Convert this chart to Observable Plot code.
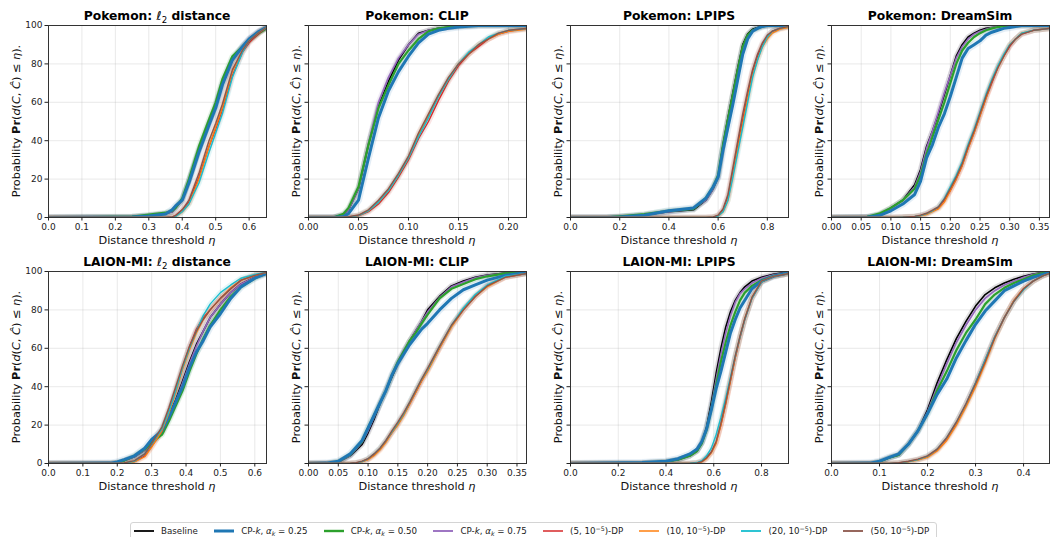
<!DOCTYPE html>
<html>
<head>
<meta charset="utf-8">
<script src="https://cdn.jsdelivr.net/npm/d3@7"></script>
<script src="https://cdn.jsdelivr.net/npm/@observablehq/plot@0.6"></script>
<style>
  body { margin: 0; background: #fff; font-family: "DejaVu Sans", sans-serif; }
  #fig { position: relative; width: 1050px; height: 537px; overflow: hidden; background: #fff; }
  #fig svg.panel { position: absolute; }
  #legend {
    position: absolute; left: 130px; top: 522px; width: 802px; height: 16px;
    border: 1px solid #d4d4d4; border-radius: 3px; box-sizing: content-box;
    display: flex; align-items: center; padding-left: 3px; gap: 16.3px;
    font-size: 8.7px; color: #222; white-space: nowrap;
  }
  #legend .item { display: flex; align-items: center; gap: 7px; }
  #legend sub { font-size: 0.72em; vertical-align: -0.25em; line-height: 0; }
  #legend sup { font-size: 0.72em; vertical-align: 0.45em; line-height: 0; }
</style>
</head>
<body>
<div id="fig"><div id="legend"></div></div>
<script>
// ---- series metadata ----
const seriesNames = ["Baseline", "CP-k, αk=0.25", "CP-k, αk=0.50", "CP-k, αk=0.75",
  "(5, 1e-5)-DP", "(10, 1e-5)-DP", "(20, 1e-5)-DP", "(50, 1e-5)-DP"];
const seriesLegendHtml = [
  "Baseline",
  "CP-<i>k</i>, <i>α</i><sub><i>k</i></sub> = 0.25",
  "CP-<i>k</i>, <i>α</i><sub><i>k</i></sub> = 0.50",
  "CP-<i>k</i>, <i>α</i><sub><i>k</i></sub> = 0.75",
  "(5, 10<sup>−5</sup>)-DP",
  "(10, 10<sup>−5</sup>)-DP",
  "(20, 10<sup>−5</sup>)-DP",
  "(50, 10<sup>−5</sup>)-DP"
];
const seriesColors = ["#000000", "#1f77b4", "#2ca02c", "#9467bd", "#d62728", "#ff7f0e", "#17becf", "#8c564b"];
const seriesWidths = [1.6, 3, 2.2, 1.6, 1.3, 1.3, 1.4, 1.4];
const legendWidths = [1.8, 3, 2.4, 1.8, 1.5, 1.5, 1.8, 1.8];

const probTicks = [0, 20, 40, 60, 80, 100];

// ---- Pokemon: l2 distance ----
const pokemonL2Eta      = [0, 0.25, 0.30, 0.35, 0.37, 0.38, 0.40, 0.42, 0.45, 0.48, 0.50, 0.52, 0.55, 0.58, 0.60, 0.63, 0.652];
const pokemonL2Baseline = [0, 0.3, 1, 2, 3, 5, 9, 19, 35, 49, 58, 69, 82, 89, 93, 97, 99];
const pokemonL2CP25     = [0, 0.2, 0.8, 1.8, 4, 6, 9, 18, 34, 48, 57, 69, 82, 89, 93, 97, 99];
const pokemonL2CP50     = [0, 0.5, 1.5, 2.5, 3.5, 5, 10, 20, 37, 51, 60, 72, 84, 89, 92, 96, 98.5];
const pokemonL2CP75     = [0, 0.3, 1, 2, 3, 5, 9, 19, 35, 49, 58, 70, 82, 89, 93, 97, 99];
const pokemonL2DP5      = [0, 0, 0, 0, 0.3, 1, 4, 8, 21, 37, 46, 56, 74, 86, 91, 96, 99];
const pokemonL2DP10     = [0, 0, 0, 0, 0.2, 0.5, 3, 7, 20, 37, 47, 57, 76, 87, 92, 96.5, 99];
const pokemonL2DP20     = [0, 0, 0, 0, 0.2, 0.5, 3, 7, 18, 34, 44, 54, 73, 86, 92, 96.5, 99];
const pokemonL2DP50     = [0, 0, 0, 0, 0.3, 1, 4, 9, 23, 40, 49, 59, 77, 87, 92, 96.5, 99];
const pokemonL2Ticks    = [0, 0.1, 0.2, 0.3, 0.4, 0.5, 0.6];

// ---- Pokemon: CLIP ----
const pokemonClipEta      = [0, 0.025, 0.035, 0.04, 0.05, 0.06, 0.07, 0.08, 0.09, 0.10, 0.11, 0.12, 0.13, 0.14, 0.15, 0.16, 0.17, 0.18, 0.19, 0.20, 0.218];
const pokemonClipBaseline = [0, 0, 1.5, 4, 15, 38, 58, 71, 82, 90, 96, 97.5, 98.5, 99, 99.5, 99.8, 100, 100, 100, 100, 100];
const pokemonClipCP25     = [0, 0, 0.5, 2, 9, 31, 52, 66, 76, 84, 91, 95.5, 97.5, 98.5, 99.2, 99.6, 100, 100, 100, 100, 100];
const pokemonClipCP50     = [0, 0, 2, 5, 16, 38, 57, 69, 80, 87, 93, 97, 98.5, 99.2, 99.6, 99.8, 100, 100, 100, 100, 100];
const pokemonClipCP75     = [0, 0, 1.5, 4, 15, 39, 60, 73, 83, 90, 95.5, 97.5, 98.5, 99, 99.5, 99.8, 100, 100, 100, 100, 100];
const pokemonClipDP5      = [0, 0, 0, 0.2, 0.8, 3, 7, 13, 21, 30, 41, 50, 61, 71, 79, 85, 89, 93, 95.5, 97, 98.5];
const pokemonClipDP10     = [0, 0, 0, 0.3, 1, 3.5, 8, 14, 22, 31, 43, 53, 63, 72, 80, 85, 90, 93, 95.5, 97, 98];
const pokemonClipDP20     = [0, 0, 0, 0.3, 1, 3.5, 8, 14, 22, 31, 42, 52, 63, 72, 80, 86, 90, 94, 96, 97.5, 98.5];
const pokemonClipDP50     = [0, 0, 0.1, 0.4, 1.3, 4, 9, 15, 23, 32, 44, 54, 64, 73, 80, 85, 90, 93, 96, 97.5, 98.5];
const pokemonClipTicks    = [0, 0.05, 0.10, 0.15, 0.20];

// ---- Pokemon: LPIPS ----
const pokemonLpipsEta      = [0, 0.15, 0.2, 0.3, 0.4, 0.5, 0.55, 0.58, 0.6, 0.62, 0.64, 0.66, 0.68, 0.7, 0.72, 0.74, 0.76, 0.78, 0.8, 0.82, 0.85, 0.886];
const pokemonLpipsBaseline = [0, 0, 0.4, 1.3, 3, 4, 9, 15, 21, 38, 52, 65, 78, 90, 95.5, 98, 99, 99.6, 100, 100, 100, 100];
const pokemonLpipsCP25     = [0, 0, 0.3, 1.2, 3.5, 5, 10, 16, 21, 35, 47, 59, 72, 85, 93, 97, 98.5, 99.5, 100, 100, 100, 100];
const pokemonLpipsCP50     = [0, 0.1, 0.6, 1.8, 3.5, 4.5, 10, 16, 22, 38, 51, 64, 77, 89, 95, 97.5, 98.5, 99.5, 100, 100, 100, 100];
const pokemonLpipsCP75     = [0, 0, 0.4, 1.3, 3, 4.5, 9, 15, 21, 37, 51, 64, 77, 89, 95, 97.5, 98.7, 99.5, 100, 100, 100, 100];
const pokemonLpipsDP5      = [0, 0, 0, 0, 0, 0, 0, 0.2, 1, 4, 11, 24, 38, 51, 64, 76, 84, 90, 94, 97, 98.5, 99.5];
const pokemonLpipsDP10     = [0, 0, 0, 0, 0, 0, 0, 0, 0.8, 3, 9, 22, 36, 49, 62, 74, 82, 89, 93, 96, 98, 99];
const pokemonLpipsDP20     = [0, 0, 0, 0, 0, 0, 0, 0, 0.8, 3, 9, 21, 34, 47, 60, 73, 82, 89, 94, 97, 98.5, 99.5];
const pokemonLpipsDP50     = [0, 0, 0, 0, 0, 0, 0, 0.3, 1.2, 4.5, 12, 26, 40, 54, 66, 77, 85, 91, 95, 97, 98.5, 99.5];
const pokemonLpipsTicks    = [0, 0.2, 0.4, 0.6, 0.8];

// ---- Pokemon: DreamSim ----
const pokemonDreamEta      = [0, 0.06, 0.08, 0.10, 0.12, 0.14, 0.15, 0.16, 0.17, 0.18, 0.19, 0.20, 0.21, 0.22, 0.23, 0.24, 0.25, 0.26, 0.27, 0.28, 0.29, 0.30, 0.31, 0.32, 0.34, 0.367];
const pokemonDreamBaseline = [0, 0.2, 1.5, 5, 9, 17, 25, 37, 45, 54, 64, 74, 84, 90, 94, 96, 97.5, 98.5, 99, 99.5, 99.8, 100, 100, 100, 100, 100];
const pokemonDreamCP25     = [0, 0.1, 1, 3.5, 7, 12, 19, 31, 38, 47, 54, 63, 73, 83, 88, 90, 92, 95, 96.5, 97.5, 98.5, 99, 99.5, 100, 100, 100];
const pokemonDreamCP50     = [0, 0.3, 2, 5, 9, 15, 22, 33, 42, 51, 60, 70, 80, 87, 91, 94, 96, 97.5, 98.5, 99.2, 99.6, 100, 100, 100, 100, 100];
const pokemonDreamCP75     = [0, 0.2, 1.5, 4.5, 9, 16, 24, 36, 45, 55, 65, 74, 83, 89, 93, 95.5, 97, 98, 99, 99.5, 99.8, 100, 100, 100, 100, 100];
const pokemonDreamDP5      = [0, 0, 0, 0, 0.2, 0.5, 1, 2, 3.5, 5, 9, 14, 20, 27, 36, 44, 53, 62, 70, 78, 84, 89, 93, 95.5, 97.5, 98.5];
const pokemonDreamDP10     = [0, 0, 0, 0, 0.1, 0.4, 0.8, 1.5, 3, 4.5, 8, 14, 20, 27, 36, 44, 53, 62, 71, 78, 84, 90, 93, 96, 97.5, 98.5];
const pokemonDreamDP20     = [0, 0, 0, 0, 0.2, 0.5, 1, 2, 3.5, 5.5, 10, 16, 22, 29, 38, 46, 55, 64, 72, 79, 85, 90, 93, 96, 97.5, 98.5];
const pokemonDreamDP50     = [0, 0, 0, 0, 0.2, 0.6, 1.2, 2.2, 3.8, 5.5, 9.5, 15, 21, 28, 37, 45, 54, 63, 71, 78, 84, 89.5, 93, 95.5, 97.5, 98.5];
const pokemonDreamTicks    = [0, 0.05, 0.10, 0.15, 0.20, 0.25, 0.30, 0.35];

// ---- LAION-MI: l2 distance ----
const laionL2Eta      = [0, 0.18, 0.2, 0.22, 0.25, 0.28, 0.30, 0.33, 0.35, 0.37, 0.39, 0.41, 0.43, 0.45, 0.47, 0.50, 0.53, 0.56, 0.60, 0.634];
const laionL2Baseline = [0, 0, 0.5, 1.5, 3.5, 7, 11, 17, 25, 33, 43, 53, 62, 69, 76, 83, 89, 93.5, 97, 99];
const laionL2CP25     = [0, 0.2, 0.8, 2, 4, 8, 12.5, 17, 24, 32, 40, 50, 58, 64, 71, 78, 86, 92, 96.5, 99];
const laionL2CP50     = [0, 0, 0.5, 1.5, 4, 7.5, 11, 15, 22, 30, 38, 48, 57, 65, 72, 80, 87, 92, 96.5, 99];
const laionL2CP75     = [0, 0, 0.5, 1.5, 3.5, 7, 11, 16, 24, 32, 42, 52, 61, 69, 76, 83, 89, 93.5, 97, 99];
const laionL2DP5      = [0, 0, 0, 0.2, 1, 4, 9, 17, 27, 38, 50, 61, 70, 76, 80, 86, 91, 95.5, 98, 99.5];
const laionL2DP10     = [0, 0, 0, 0.1, 0.8, 3.5, 8.5, 17, 26, 37, 49, 59, 68, 75, 80, 86, 91.5, 95.5, 98, 99.5];
const laionL2DP20     = [0, 0, 0, 0.2, 1.2, 5, 10, 18, 27, 38, 50, 60, 69, 77, 83, 89, 93, 96.5, 98.5, 99.5];
const laionL2DP50     = [0, 0, 0, 0.3, 1.5, 5, 10.5, 19, 29, 40, 51, 61, 69, 75, 80, 86, 91, 95.5, 98, 99.5];
const laionL2Ticks    = [0, 0.1, 0.2, 0.3, 0.4, 0.5, 0.6];

// ---- LAION-MI: CLIP ----
const laionClipEta      = [0, 0.03, 0.05, 0.07, 0.08, 0.09, 0.10, 0.11, 0.12, 0.13, 0.14, 0.15, 0.16, 0.17, 0.18, 0.19, 0.20, 0.22, 0.24, 0.26, 0.28, 0.30, 0.33, 0.366];
const laionClipBaseline = [0, 0, 0.8, 4, 7, 10, 16, 23, 31, 38, 45, 52, 58, 64, 69, 74, 80, 87, 92.5, 95, 97, 98.2, 99.2, 99.7];
const laionClipCP25     = [0, 0.2, 1.2, 5, 8.5, 12, 18.5, 25, 31.5, 38, 46, 52, 57, 62, 66, 70, 73, 80, 86, 90.5, 93, 95.5, 98, 99.5];
const laionClipCP50     = [0, 0, 1, 4.5, 8, 11.5, 18.5, 25, 31.5, 38, 46, 53, 58.5, 64, 68, 73, 77.5, 86, 91, 93.5, 96, 97.5, 99, 99.5];
const laionClipCP75     = [0, 0, 0.8, 4, 7.5, 11, 17, 24, 31, 38, 46, 53, 59, 64, 69, 74, 79, 86.5, 92, 94.5, 96.7, 98, 99, 99.5];
const laionClipDP5      = [0, 0, 0, 0, 0.3, 1, 2.2, 4.5, 7.5, 11.5, 16, 20.5, 25.5, 31, 37, 43, 48.5, 60, 71.5, 80, 87, 92.5, 97, 99];
const laionClipDP10     = [0, 0, 0, 0, 0.2, 0.8, 2, 4, 7, 11, 16, 20, 25, 31, 37, 43, 48, 60, 71, 80, 87, 92, 97, 99];
const laionClipDP20     = [0, 0, 0, 0, 0.3, 1, 2.5, 5, 8, 12, 16.5, 21, 26, 32, 38, 44, 49, 61, 72, 81, 88, 93, 97.5, 99];
const laionClipDP50     = [0, 0, 0, 0.1, 0.4, 1.2, 2.5, 5, 8, 12, 17, 21.5, 26.5, 32, 38, 44, 49.5, 61, 72, 80, 87, 92.5, 97, 99];
const laionClipTicks    = [0, 0.05, 0.10, 0.15, 0.20, 0.25, 0.30, 0.35];

// ---- LAION-MI: LPIPS ----
const laionLpipsEta      = [0, 0.3, 0.4, 0.45, 0.5, 0.53, 0.55, 0.57, 0.59, 0.61, 0.63, 0.65, 0.67, 0.69, 0.71, 0.73, 0.76, 0.8, 0.85, 0.9, 0.913];
const laionLpipsBaseline = [0, 0.3, 1, 2, 4, 6.5, 11, 19, 32, 47, 60, 71, 79, 85, 89, 92, 95, 97, 98.5, 99.5, 99.8];
const laionLpipsCP25     = [0, 0.5, 1.2, 2.5, 5, 7.5, 11.5, 18, 28, 39, 48, 58, 68, 75, 81, 85, 91, 95, 97.5, 99, 99.5];
const laionLpipsCP50     = [0, 0.3, 1, 2, 4, 6.5, 10.5, 17.5, 28.5, 41, 53, 63, 72, 79, 85, 89, 92.5, 95.5, 97.8, 99, 99.5];
const laionLpipsCP75     = [0, 0.3, 1, 2, 4, 6.5, 10.5, 18, 30, 44, 57, 68, 77, 84, 88.5, 91, 94, 96.5, 98.3, 99.3, 99.7];
const laionLpipsDP5      = [0, 0, 0, 0, 0, 0.3, 1, 3, 6, 11, 20, 31, 43, 55, 65.5, 75, 86, 94.5, 97.5, 98.6, 99];
const laionLpipsDP10     = [0, 0, 0, 0, 0, 0.2, 0.8, 2.5, 5.5, 10.5, 20, 31, 43, 55, 66, 75.5, 86.5, 95, 97.5, 98.6, 99];
const laionLpipsDP20     = [0, 0, 0, 0, 0.1, 0.5, 1.5, 4, 8, 15, 24, 34, 45, 56, 66, 75, 86, 94.5, 97.5, 98.6, 99];
const laionLpipsDP50     = [0, 0, 0, 0, 0, 0.3, 1, 3, 6, 11.5, 21, 32, 44, 56, 66.5, 75.5, 86.5, 95, 97.5, 98.6, 99];
const laionLpipsTicks    = [0, 0.2, 0.4, 0.6, 0.8];

// ---- LAION-MI: DreamSim ----
const laionDreamEta      = [0, 0.08, 0.10, 0.12, 0.14, 0.16, 0.18, 0.20, 0.22, 0.24, 0.26, 0.28, 0.30, 0.32, 0.34, 0.36, 0.38, 0.40, 0.42, 0.44, 0.454];
const laionDreamBaseline = [0, 0, 1, 3, 4.5, 10, 17, 28, 42, 54, 65, 74, 82, 88, 91.5, 94, 96, 97.5, 98.7, 99.5, 100];
const laionDreamCP25     = [0, 0.2, 1.2, 3.2, 5, 10, 17, 26, 36, 44, 55, 64, 72.5, 79.4, 84.7, 90, 92.5, 95, 97, 98.5, 99.5];
const laionDreamCP50     = [0, 0, 1, 3, 4.5, 10, 17, 26, 38, 48, 59, 68, 75, 83, 88, 91.5, 94, 96, 98, 99.2, 99.7];
const laionDreamCP75     = [0, 0, 1, 3, 4.5, 10, 17, 27, 40, 52, 63, 72, 80, 86, 90, 93, 95, 97, 98.5, 99.3, 99.8];
const laionDreamDP5      = [0, 0, 0, 0, 0.3, 1, 2, 3.5, 7, 13, 21, 31, 42, 54, 66, 76, 85, 91, 95, 97.7, 99];
const laionDreamDP10     = [0, 0, 0, 0, 0.2, 0.8, 1.8, 3.2, 6.5, 12, 20, 29.5, 40, 52, 65, 76, 85, 91, 95, 97.7, 99];
const laionDreamDP20     = [0, 0, 0, 0, 0.3, 1, 2, 3.8, 7.5, 13.5, 21.5, 31, 42, 54, 66, 76, 84.5, 90.5, 95, 97.7, 99];
const laionDreamDP50     = [0, 0, 0, 0, 0.4, 1.2, 2.3, 4, 7.5, 13.5, 21.5, 31, 41.5, 53, 65.5, 76, 84.5, 91, 95, 97.7, 99];
const laionDreamTicks    = [0, 0.1, 0.2, 0.3, 0.4];

// ---- panel table built from the arrays above ----
const panels = [
  {dataset: "Pokemon", metric: "l2", eta: pokemonL2Eta, ticks: pokemonL2Ticks, fmt: ".1f",
   series: [pokemonL2Baseline, pokemonL2CP25, pokemonL2CP50, pokemonL2CP75, pokemonL2DP5, pokemonL2DP10, pokemonL2DP20, pokemonL2DP50]},
  {dataset: "Pokemon", metric: "CLIP", eta: pokemonClipEta, ticks: pokemonClipTicks, fmt: ".2f",
   series: [pokemonClipBaseline, pokemonClipCP25, pokemonClipCP50, pokemonClipCP75, pokemonClipDP5, pokemonClipDP10, pokemonClipDP20, pokemonClipDP50]},
  {dataset: "Pokemon", metric: "LPIPS", eta: pokemonLpipsEta, ticks: pokemonLpipsTicks, fmt: ".1f",
   series: [pokemonLpipsBaseline, pokemonLpipsCP25, pokemonLpipsCP50, pokemonLpipsCP75, pokemonLpipsDP5, pokemonLpipsDP10, pokemonLpipsDP20, pokemonLpipsDP50]},
  {dataset: "Pokemon", metric: "DreamSim", eta: pokemonDreamEta, ticks: pokemonDreamTicks, fmt: ".2f",
   series: [pokemonDreamBaseline, pokemonDreamCP25, pokemonDreamCP50, pokemonDreamCP75, pokemonDreamDP5, pokemonDreamDP10, pokemonDreamDP20, pokemonDreamDP50]},
  {dataset: "LAION-MI", metric: "l2", eta: laionL2Eta, ticks: laionL2Ticks, fmt: ".1f",
   series: [laionL2Baseline, laionL2CP25, laionL2CP50, laionL2CP75, laionL2DP5, laionL2DP10, laionL2DP20, laionL2DP50]},
  {dataset: "LAION-MI", metric: "CLIP", eta: laionClipEta, ticks: laionClipTicks, fmt: ".2f",
   series: [laionClipBaseline, laionClipCP25, laionClipCP50, laionClipCP75, laionClipDP5, laionClipDP10, laionClipDP20, laionClipDP50]},
  {dataset: "LAION-MI", metric: "LPIPS", eta: laionLpipsEta, ticks: laionLpipsTicks, fmt: ".1f",
   series: [laionLpipsBaseline, laionLpipsCP25, laionLpipsCP50, laionLpipsCP75, laionLpipsDP5, laionLpipsDP10, laionLpipsDP20, laionLpipsDP50]},
  {dataset: "LAION-MI", metric: "DreamSim", eta: laionDreamEta, ticks: laionDreamTicks, fmt: ".1f",
   series: [laionDreamBaseline, laionDreamCP25, laionDreamCP50, laionDreamCP75, laionDreamDP5, laionDreamDP10, laionDreamDP20, laionDreamDP50]}
];

// ---- layout ----
const ML = 48, MT = 25, MR = 4, MB = 32, PW = 218, PH = 192;
const colLefts = [48, 308, 570, 831];
const rowTops = [25, 271];
const drawOrder = [0, 3, 2, 1, 4, 5, 6, 7];

const fig = document.getElementById("fig");

panels.forEach((p, i) => {
  const col = i % 4, row = Math.floor(i / 4);
  const xmax = p.eta[p.eta.length - 1];
  const tables = p.series.map(vals => p.eta.map((e, j) => ({eta: e, pr: vals[j]})));

  const marks = [
    Plot.gridX(p.ticks, {stroke: "#b0b0b0", strokeOpacity: 0.35, strokeWidth: 0.8}),
    Plot.gridY(probTicks, {stroke: "#b0b0b0", strokeOpacity: 0.35, strokeWidth: 0.8})
  ];
  // soft confidence bands under each curve
  for (const k of drawOrder) {
    marks.push(Plot.line(tables[k], {x: "eta", y: "pr", stroke: seriesColors[k],
      strokeWidth: k === 1 ? 7 : 5.5, strokeOpacity: 0.12, clip: true}));
  }
  for (const k of drawOrder) {
    marks.push(Plot.line(tables[k], {x: "eta", y: "pr", stroke: seriesColors[k],
      strokeWidth: seriesWidths[k], clip: true}));
  }
  marks.push(Plot.frame({stroke: "#333", strokeWidth: 1}));
  marks.push(Plot.axisX(p.ticks, {tickFormat: d3.format(p.fmt), tickSize: 3.5, tickPadding: 2.5,
    label: null, fontSize: 9}));
  marks.push(Plot.axisY(probTicks, {tickFormat: col === 0 ? d3.format("d") : () => "",
    tickSize: 3.5, tickPadding: 2.5, label: null, fontSize: 9}));

  const svg = Plot.plot({
    width: ML + PW + MR, height: MT + PH + MB,
    marginLeft: ML, marginRight: MR, marginTop: MT, marginBottom: MB,
    style: {fontFamily: "DejaVu Sans", fontSize: "9px", color: "#222", background: "transparent", overflow: "visible"},
    x: {domain: [0, xmax]},
    y: {domain: [0, 100]},
    marks
  });
  svg.classList.add("panel");
  svg.style.left = (colLefts[col] - ML) + "px";
  svg.style.top = (rowTops[row] - MT) + "px";
  svg.style.maxWidth = "none";

  const s = d3.select(svg);
  const cx = ML + PW / 2;

  // panel title
  const t = s.append("text").attr("x", cx).attr("y", MT - 5)
    .attr("text-anchor", "middle").attr("font-size", 12.3).attr("font-weight", "bold")
    .attr("fill", "#000");
  t.append("tspan").text(p.dataset + ": ");
  if (p.metric === "l2") {
    t.append("tspan").attr("font-weight", "normal").attr("font-style", "italic").text("ℓ");
    t.append("tspan").attr("font-weight", "normal").attr("font-size", 8.6).attr("dy", 2.5).text("2");
    t.append("tspan").attr("dy", -2.5).text(" distance");
  } else {
    t.append("tspan").text(p.metric);
  }

  // x-axis label
  const xl = s.append("text").attr("x", cx).attr("y", MT + PH + 27)
    .attr("text-anchor", "middle").attr("font-size", 11.3).attr("fill", "#111");
  xl.append("tspan").text("Distance threshold ");
  xl.append("tspan").attr("font-style", "italic").text("η");

  // y-axis label
  const yx = col === 0 ? 19.5 : ML - 8;
  const yl = s.append("text")
    .attr("transform", `translate(${yx},${MT + PH / 2}) rotate(-90)`)
    .attr("text-anchor", "middle").attr("font-size", 11.3).attr("fill", "#111");
  const parts = [["Probability ", null], ["Pr", "b"], ["(", null], ["d", "i"], ["(", null], ["C", "i"],
    [", ", null], ["Ĉ", "i"], [")", null], [" ≤ ", null], ["η", "i"], [").", null]];
  for (const [txt, st] of parts) {
    const ts = yl.append("tspan").text(txt);
    if (st === "b") ts.attr("font-weight", "bold");
    if (st === "i") ts.attr("font-style", "italic");
  }

  fig.appendChild(svg);
});

// ---- legend ----
const legend = document.getElementById("legend");
seriesNames.forEach((name, k) => {
  const item = document.createElement("div");
  item.className = "item";
  item.innerHTML =
    `<svg width="20" height="8"><line x1="0" x2="20" y1="4" y2="4" stroke="${seriesColors[k]}" stroke-width="${legendWidths[k]}"/></svg>` +
    `<span>${seriesLegendHtml[k]}</span>`;
  legend.appendChild(item);
});
</script>
</body>
</html>
